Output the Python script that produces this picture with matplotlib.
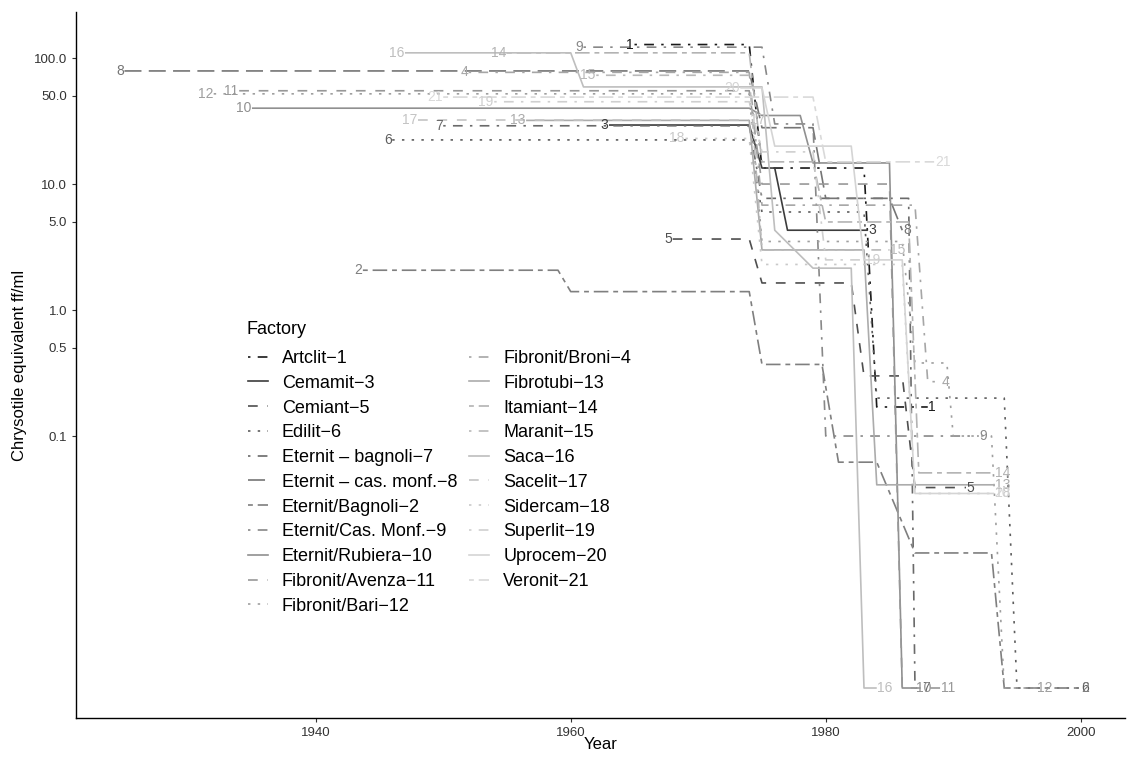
import matplotlib
matplotlib.use("Agg")
import matplotlib.pyplot as plt
from matplotlib.lines import Line2D
from matplotlib.ticker import NullLocator

plt.rcParams['font.family'] = ['Liberation Sans', 'DejaVu Sans']
plt.rcParams['lines.scale_dashes'] = False

# legend order (alphabetical factory names) and the id used as line label
factories = ["Artclit−1", "Cemamit−3", "Cemiant−5", "Edilit−6", "Eternit – bagnoli−7",
             "Eternit – cas. monf.−8", "Eternit/Bagnoli−2", "Eternit/Cas. Monf.−9",
             "Eternit/Rubiera−10", "Fibronit/Avenza−11", "Fibronit/Bari−12",
             "Fibronit/Broni−4", "Fibrotubi−13", "Itamiant−14", "Maranit−15", "Saca−16",
             "Sacelit−17", "Sidercam−18", "Superlit−19", "Uprocem−20", "Veronit−21"]
factory_ids = [1, 3, 5, 6, 7, 8, 2, 9, 10, 11, 12, 4, 13, 14, 15, 16, 17, 18, 19, 20, 21]
linetypes = ["dotdash", "solid", "dashed", "dotted", "dotdash", "longdash", "twodash",
             "dotdash", "solid", "dashed", "dotted", "dotdash", "solid", "twodash",
             "dotdash", "solid", "dashed", "dotted", "dotdash", "solid", "twodash"]

# exposure series (year, chrysotile equivalent ff/ml)
years_1 = [1965, 1974, 1975, 1983, 1984, 1988]
conc_1 = [128, 128, 13.4, 13.4, 0.17, 0.17]
years_2 = [1943.7, 1959, 1960, 1974, 1975, 1979.7, 1981, 1984, 1987, 1993, 1994, 2000]
conc_2 = [2.07, 2.07, 1.4, 1.4, 0.37, 0.37, 0.062, 0.062, 0.0118, 0.0118, 0.001, 0.001]
years_3 = [1963, 1974, 1975, 1976, 1977, 1983.3]
conc_3 = [29.4, 29.4, 13.4, 13.4, 4.3, 4.3]
years_4 = [1952, 1974, 1975, 1987, 1988, 1989]
conc_4 = [77, 77, 6.8, 6.8, 0.27, 0.27]
years_5 = [1968, 1974, 1975, 1982, 1983, 1986, 1987, 1991]
conc_5 = [3.66, 3.66, 1.64, 1.64, 0.3, 0.3, 0.039, 0.039]
years_6 = [1946, 1974, 1975, 1983, 1984, 1994, 1995, 2000]
conc_6 = [22.4, 22.4, 6, 6, 0.2, 0.2, 0.001, 0.001]
years_7 = [1950, 1974, 1975, 1986.5, 1987, 1987.5]
conc_7 = [29, 29, 7.7, 7.7, 0.001, 0.001]
years_8 = [1925, 1974, 1975, 1979, 1980, 1985, 1986]
conc_8 = [79, 79, 28, 28, 7.7, 7.7, 4.3]
years_9 = [1961, 1975, 1976, 1979, 1980, 1992]
conc_9 = [122, 122, 30, 30, 0.1, 0.1]
years_10 = [1935, 1974, 1975, 1978, 1979, 1985, 1986, 1987]
conc_10 = [40, 40, 35, 35, 14.7, 14.7, 0.001, 0.001]
years_11 = [1934, 1974, 1975, 1985, 1986, 1989]
conc_11 = [55, 55, 10, 10, 0.001, 0.001]
years_12 = [1932, 1974, 1975, 1986, 1987, 1989.5, 1990, 1993, 1994, 1996.5]
conc_12 = [52, 52, 3.5, 3.5, 0.38, 0.38, 0.1, 0.1, 0.001, 0.001]
years_13 = [1956.5, 1974, 1975, 1983, 1984, 1993.2]
conc_13 = [32, 32, 3, 3, 0.041, 0.041]
years_14 = [1955, 1974, 1975, 1979, 1980, 1986.5, 1987.3, 1993.2]
conc_14 = [110, 110, 15, 15, 5, 5, 0.051, 0.051]
years_15 = [1962, 1974, 1975, 1985]
conc_15 = [73, 73, 3, 3]
years_16 = [1947, 1960, 1961, 1975, 1976, 1979, 1982, 1983, 1984]
conc_16 = [110, 110, 59, 59, 4.3, 2.15, 2.15, 0.001, 0.001]
years_17 = [1948, 1974]
conc_17 = [32, 32]
years_18 = [1969, 1974, 1975, 1986, 1987, 1993.2]
conc_18 = [23, 23, 2.3, 2.3, 0.035, 0.035]
years_19 = [1954, 1974, 1975, 1979, 1980, 1983]
conc_19 = [45, 45, 18, 18, 2.5, 2.5]
years_20 = [1973.3, 1975, 1976, 1982, 1983, 1986, 1987, 1993.2]
conc_20 = [58, 58, 20, 20, 2.5, 2.5, 0.035, 0.035]
years_21 = [1950, 1979, 1980, 1988.5]
conc_21 = [49, 49, 15, 15]

series = {1: (years_1, conc_1), 2: (years_2, conc_2), 3: (years_3, conc_3),
          4: (years_4, conc_4), 5: (years_5, conc_5), 6: (years_6, conc_6),
          7: (years_7, conc_7), 8: (years_8, conc_8), 9: (years_9, conc_9),
          10: (years_10, conc_10), 11: (years_11, conc_11), 12: (years_12, conc_12),
          13: (years_13, conc_13), 14: (years_14, conc_14), 15: (years_15, conc_15),
          16: (years_16, conc_16), 17: (years_17, conc_17), 18: (years_18, conc_18),
          19: (years_19, conc_19), 20: (years_20, conc_20), 21: (years_21, conc_21)}

y_ticks = [0.1, 0.5, 1, 5, 10, 50, 100]
x_ticks = [1940, 1960, 1980, 2000]


def grey_palette(n, start=0.1, end=0.85, gamma=2.2):
    # same idea as R grey.colors()
    a, b = start ** gamma, end ** gamma
    out = []
    for i in range(n):
        g = (a + (b - a) * i / (n - 1)) ** (1 / gamma)
        out.append((g, g, g))
    return out


u = 1.75
dash_map = {"solid": "-",
            "dashed": (0, (4 * u, 4 * u)),
            "dotted": (0, (1 * u, 3 * u)),
            "dotdash": (0, (1 * u, 3 * u, 4 * u, 3 * u)),
            "longdash": (0, (7 * u, 3 * u)),
            "twodash": (0, (2 * u, 2 * u, 6 * u, 2 * u))}

colors = grey_palette(len(factories))
lw = 1.2

fig = plt.figure(figsize=(11.28, 7.59), dpi=100)
ax = fig.add_axes([76 / 1128, 1 - 718 / 759, (1125 - 76) / 1128, (718 - 12) / 759])

handles = []
for i, fid in enumerate(factory_ids):
    yrs, vals = series[fid]
    ls = dash_map[linetypes[i]]
    ax.plot(yrs, vals, color=colors[i], lw=lw, linestyle=ls, dash_capstyle='butt',
            solid_capstyle='butt', zorder=2)
    handles.append(Line2D([], [], color=colors[i], lw=lw, linestyle=ls,
                          dash_capstyle='butt'))

for i, fid in enumerate(factory_ids):
    yrs, vals = series[fid]
    ax.annotate(str(fid), (yrs[0], vals[0]), xytext=(-0.5, 0), textcoords='offset points',
                ha='right', va='center', fontsize=10, color=colors[i], zorder=3)
    ax.annotate(str(fid), (yrs[-1], vals[-1]), xytext=(0.5, 0), textcoords='offset points',
                ha='left', va='center', fontsize=10, color=colors[i], zorder=3)

ax.set_yscale('log')
ax.set_xlim(1921.2, 2003.47)
ax.set_ylim(0.000578, 232)
ax.set_yticks(y_ticks)
ax.set_yticklabels([f"{v:.1f}" for v in y_ticks])
ax.yaxis.set_minor_locator(NullLocator())
ax.set_xticks(x_ticks)
ax.tick_params(length=3, width=0.8, color='#333333', labelcolor='#333333', labelsize=9.5)

for side in ['top', 'right']:
    ax.spines[side].set_visible(False)
for side in ['left', 'bottom']:
    ax.spines[side].set_linewidth(1.0)
    ax.spines[side].set_color('black')

ax.set_xlabel("Year", fontsize=12)
ax.set_ylabel("Chrysotile equivalent ff/ml", fontsize=12)
ax.xaxis.set_label_coords(0.5, (718 - 737) / 706)
ax.yaxis.set_label_coords((27 - 76) / 1049, 0.5)

# legend: title drawn as its own text so the gap to the first key matches
fig.text(247 / 1128, 1 - 330 / 759, "Factory", fontsize=13, ha='left', va='center')
ax.legend(handles, factories, ncol=2, loc='upper left',
          bbox_to_anchor=(248 / 1128, 1 - 350 / 759), bbox_transform=fig.transFigure,
          frameon=False, fontsize=13,
          handlelength=1.1, handletextpad=0.78, columnspacing=0.66, labelspacing=0.43,
          borderpad=0, borderaxespad=0)

fig.savefig("out.png", dpi=100)
